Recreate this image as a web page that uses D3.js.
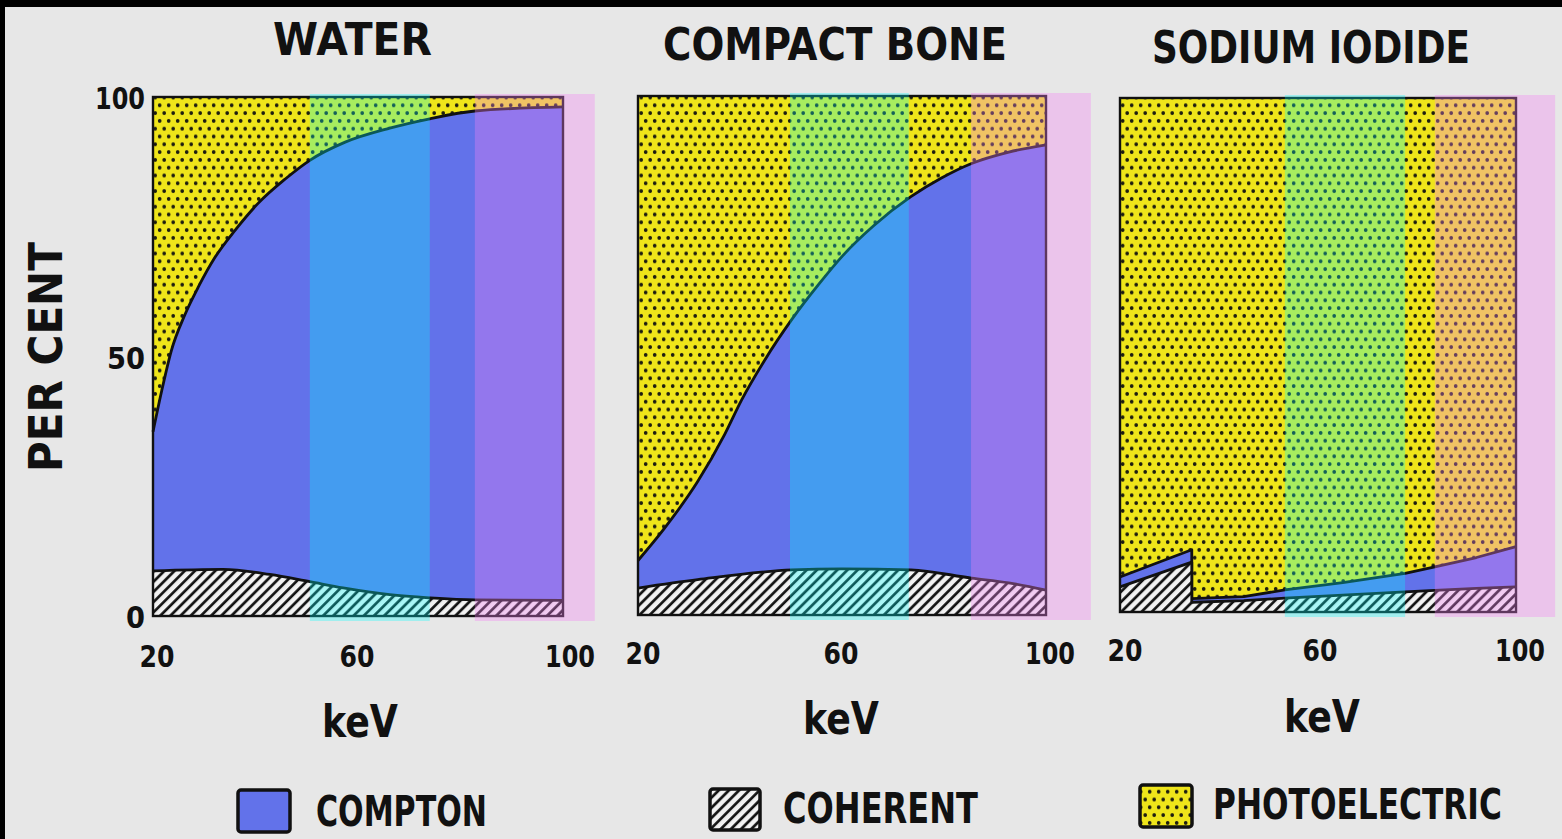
<!DOCTYPE html>
<html>
<head>
<meta charset="utf-8">
<script src="https://cdn.jsdelivr.net/npm/d3@7/dist/d3.min.js"></script>
<style>
  html, body { margin: 0; padding: 0; background: #e7e7e7; overflow: hidden; }
  svg { display: block; }
  text { font-family: "DejaVu Sans", sans-serif; font-weight: bold; fill: #111; }
</style>
</head>
<body>
<svg id="chart" width="1562" height="839"></svg>
<script>
// ---- Data: photon energy (keV) and cumulative percentage of interactions ----
// Each "top" array is the upper edge of that layer: coherent at the bottom,
// Compton stacked on it, photoelectric filling the rest up to 100 %.

const panelTitles = ["WATER", "COMPACT BONE", "SODIUM IODIDE"];
const xTickValues = [20, 60, 100];
const yTickValues = [0, 50, 100];
const xAxisLabel = "keV";
const yAxisLabel = "PER CENT";
const legendLabels = ["COMPTON", "COHERENT", "PHOTOELECTRIC"];

// Water
const waterComptonKeV = [20, 21.7, 23.6, 26.2, 28.8, 32.1, 36, 40.5, 45.8, 50.6, 57.5, 66.2, 74, 82.8, 100];
const waterComptonTop = [35.5, 43.4, 51.2, 58.0, 63.3, 69.1, 74.3, 79.5, 84.2, 87.8, 91.3, 94.0, 95.8, 97.3, 98.1];
const waterCoherentKeV = [20, 33.7, 42.8, 50.6, 57.1, 66.2, 74, 82.8, 100];
const waterCoherentTop = [8.7, 9.0, 8.0, 6.6, 5.4, 4.1, 3.5, 3.1, 3.0];

// Compact bone
const boneComptonKeV = [20, 25.1, 31.7, 37, 40.3, 44.9, 50.2, 55.5, 60.2, 66.2, 73.5, 79.5, 85.4, 92.7, 100];
const boneComptonTop = [10.5, 16.6, 25.7, 34.8, 41.4, 49.2, 57.0, 63.8, 69.3, 75.0, 80.6, 84.2, 87.0, 89.2, 90.6];
const boneCoherentKeV = [20, 31.7, 50.2, 60, 73.5, 85.4, 92.7, 100];
const boneCoherentTop = [5.2, 6.8, 8.7, 8.9, 8.7, 7.1, 6.2, 4.8];

// Sodium iodide (iodine K-edge gives the step)
const naiKeV = [20, 34.5, 34.5, 45, 53.3, 65, 77.6, 83.6, 92, 100];
const naiComptonTop = [6.8, 12.1, 2.6, 3.0, 4.3, 5.7, 7.5, 8.8, 10.6, 12.7];
const naiCoherentTop = [4.9, 9.7, 1.9, 2.2, 2.7, 3.3, 3.9, 4.2, 4.6, 4.9];

// Highlighted energy windows (keV)
const cyanBandKeV = [[50.6, 74.0], [49.8, 73.1], [53.3, 77.6]];
const pinkBandKeV = [[82.8, 106.2], [85.3, 108.8], [83.6, 107.9]];

// ---- Layout ----
const frames = [
  { left: 153, right: 563, top: 97, bottom: 616, smooth: true, tickY: 667, keVY: 737, keVX: 360,
    tickCenters: [157, 357, 570],
    compton: [waterComptonKeV, waterComptonTop], coherent: [waterCoherentKeV, waterCoherentTop] },
  { left: 638, right: 1046, top: 96, bottom: 615, smooth: true, tickY: 664, keVY: 734, keVX: 841,
    tickCenters: [643, 841, 1050],
    compton: [boneComptonKeV, boneComptonTop], coherent: [boneCoherentKeV, boneCoherentTop] },
  { left: 1120, right: 1516, top: 98, bottom: 612, smooth: false, tickY: 661, keVY: 732, keVX: 1322,
    tickCenters: [1125, 1320, 1520],
    compton: [naiKeV, naiComptonTop], coherent: [naiKeV, naiCoherentTop] }
];
const titlePos = [
  { x: 273, w: 159, base: 55 },
  { x: 663, w: 344, base: 60 },
  { x: 1152, w: 318, base: 63 }
];

const COLORS = {
  bg: "#e7e7e7",
  compton: "#6272ea",
  yellow: "#efe51a",
  hatchBg: "#f2f2f2",
  ink: "#111111",
  cyan: "rgba(0,255,255,0.30)",
  pink: "rgba(242,128,242,0.34)"
};

const svg = d3.select("#chart");
svg.append("rect").attr("width", 1562).attr("height", 839).attr("fill", COLORS.bg);

// squeeze a text horizontally so it spans exactly `width` px; y is the baseline
function fitText(sel, x, y, width, anchor) {
  const natural = sel.node().getComputedTextLength();
  const sx = width / natural;
  const left = anchor === "middle" ? x - width / 2 : x;
  sel.attr("x", 0).attr("y", 0).attr("dy", null).attr("dx", null).attr("text-anchor", "start")
    .attr("transform", `translate(${left},${y}) scale(${sx},1)`);
}

// ---- Fill patterns ----
const defs = svg.append("defs");
const dots = defs.append("pattern").attr("id", "dots")
  .attr("patternUnits", "userSpaceOnUse").attr("width", 9).attr("height", 15.6);
dots.append("rect").attr("width", 9).attr("height", 15.6).attr("fill", COLORS.yellow);
dots.append("circle").attr("cx", 2.2).attr("cy", 3.9).attr("r", 1.85).attr("fill", "#1c1c10");
dots.append("circle").attr("cx", 6.7).attr("cy", 11.7).attr("r", 1.85).attr("fill", "#1c1c10");

const hatch = defs.append("pattern").attr("id", "hatch")
  .attr("patternUnits", "userSpaceOnUse").attr("width", 7.2).attr("height", 10)
  .attr("patternTransform", "rotate(45)");
hatch.append("rect").attr("width", 7.2).attr("height", 10).attr("fill", COLORS.hatchBg);
hatch.append("line").attr("x1", 1.5).attr("x2", 1.5).attr("y1", 0).attr("y2", 10)
  .attr("stroke", COLORS.ink).attr("stroke-width", 2.7);

// ---- Panels ----
frames.forEach((f, i) => {
  const x = d3.scaleLinear().domain([20, 100]).range([f.left, f.right]);
  const y = d3.scaleLinear().domain([0, 100]).range([f.bottom, f.top]);
  const curve = f.smooth ? d3.curveMonotoneX : d3.curveLinear;
  const g = svg.append("g");

  // photoelectric fills the whole frame; other layers paint over it
  g.append("rect")
    .attr("x", x(20)).attr("y", y(100))
    .attr("width", x(100) - x(20)).attr("height", y(0) - y(100))
    .attr("fill", "url(#dots)");

  const layer = (pair, fill) => {
    const pts = d3.zip(pair[0], pair[1]);
    const area = d3.area().curve(curve).x(d => x(d[0])).y0(y(0)).y1(d => y(d[1]));
    const line = d3.line().curve(curve).x(d => x(d[0])).y(d => y(d[1]));
    g.append("path").attr("d", area(pts)).attr("fill", fill);
    g.append("path").attr("d", line(pts)).attr("fill", "none")
      .attr("stroke", COLORS.ink).attr("stroke-width", 2.8).attr("stroke-linejoin", "round");
  };
  layer(f.compton, COLORS.compton);
  layer(f.coherent, "url(#hatch)");

  // frame
  g.append("rect")
    .attr("x", x(20)).attr("y", y(100))
    .attr("width", x(100) - x(20)).attr("height", y(0) - y(100))
    .attr("fill", "none").attr("stroke", COLORS.ink).attr("stroke-width", 2.4);

  // highlighted energy windows
  [[cyanBandKeV[i], COLORS.cyan], [pinkBandKeV[i], COLORS.pink]].forEach(([b, c]) => {
    g.append("rect")
      .attr("x", x(b[0])).attr("width", x(b[1]) - x(b[0]))
      .attr("y", y(100) - 3).attr("height", y(0) - y(100) + 8)
      .attr("fill", c);
  });

  // x axis tick labels
  const xAxis = d3.axisBottom(x).tickValues(xTickValues).tickSize(0).tickFormat(d3.format("d"));
  const ax = svg.append("g").call(xAxis);
  ax.select(".domain").remove();
  ax.selectAll(".tick").attr("transform", null);
  ax.selectAll("text")
    .style("font-family", '"DejaVu Sans", sans-serif')
    .style("font-weight", "bold")
    .style("font-size", "31px")
    .attr("fill", COLORS.ink)
    .each(function (d, k) {
      fitText(d3.select(this), f.tickCenters[k], f.tickY, d === 100 ? 50 : 35, "middle");
    });

  // keV label
  const kv = svg.append("text").attr("font-size", 44).text(xAxisLabel);
  fitText(kv, f.keVX, f.keVY, 76, "middle");

  // title
  const t = titlePos[i];
  const tt = svg.append("text").attr("font-size", 45).text(panelTitles[i]);
  fitText(tt, t.x, t.base, t.w, "start");

  // y axis only on the first panel
  if (i === 0) {
    const yAxis = d3.axisLeft(y).tickValues(yTickValues).tickSize(0).tickFormat(d3.format("d"));
    const ay = svg.append("g").call(yAxis);
    ay.select(".domain").remove();
    ay.selectAll(".tick").attr("transform", null);
    ay.selectAll("text")
      .style("font-family", '"DejaVu Sans", sans-serif')
      .style("font-weight", "bold")
      .style("font-size", "31px")
      .attr("fill", COLORS.ink)
      .each(function (d) {
        const w = d === 100 ? 50 : (d === 50 ? 38 : 19);
        fitText(d3.select(this), 145 - w, y(d) + 12, w, "start");
      });
  }
});

// y axis title
const yl = svg.append("text").attr("font-size", 46).text(yAxisLabel);
{
  const natural = yl.node().getComputedTextLength();
  yl.attr("text-anchor", "middle")
    .attr("transform", `translate(62,357) rotate(-90) scale(${230 / natural},1)`);
}

// ---- Legend ----
const legendItems = [
  { box: [238, 790, 52, 42], fill: COLORS.compton, tx: 316, tw: 171, base: 826 },
  { box: [710, 789, 50, 41], fill: "url(#hatch)", tx: 783, tw: 195, base: 823 },
  { box: [1140, 785, 52, 42], fill: "url(#dots)", tx: 1213, tw: 289, base: 819 }
];
legendItems.forEach((it, k) => {
  svg.append("rect")
    .attr("x", it.box[0]).attr("y", it.box[1]).attr("width", it.box[2]).attr("height", it.box[3])
    .attr("rx", 3).attr("fill", it.fill)
    .attr("stroke", COLORS.ink).attr("stroke-width", 3.5);
  const lt = svg.append("text").attr("font-size", 42).text(legendLabels[k]);
  fitText(lt, it.tx, it.base, it.tw, "start");
});

// scan edge
svg.append("rect").attr("x", 0).attr("y", 0).attr("width", 1562).attr("height", 7).attr("fill", "#000");
svg.append("rect").attr("x", 0).attr("y", 0).attr("width", 5).attr("height", 839).attr("fill", "#000");
</script>
</body>
</html>
